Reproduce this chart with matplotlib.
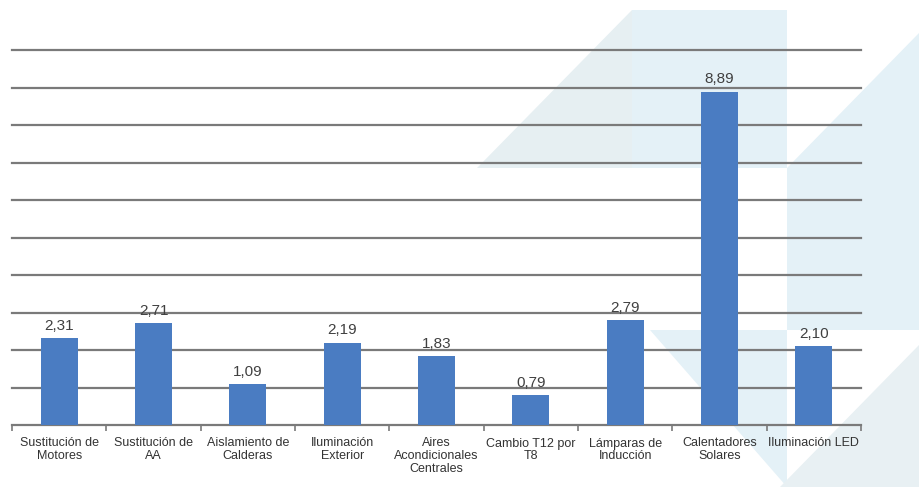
import matplotlib
matplotlib.use("Agg")
import matplotlib.pyplot as plt
from matplotlib.patches import Polygon

categorias = ["Sustitución de\nMotores", "Sustitución de\nAA", "Aislamiento de\nCalderas",
              "Iluminación\nExterior", "Aires\nAcondicionales\nCentrales", "Cambio T12 por\nT8",
              "Lámparas de\nInducción", "Calentadores\nSolares", "Iluminación LED"]
valores = [2.31, 2.71, 1.09, 2.19, 1.83, 0.79, 2.79, 8.89, 2.10]
etiquetas = ["2,31", "2,71", "1,09", "2,19", "1,83", "0,79", "2,79", "8,89", "2,10"]

W, H = 919, 487
fig = plt.figure(figsize=(W / 100, H / 100), dpi=100)
fig.patch.set_facecolor("white")

# marca de agua de fondo (pixeles de imagen)
def fondo(pts, color):
    xy = [(x / W, 1 - y / H) for x, y in pts]
    fig.patches.append(Polygon(xy, closed=True, transform=fig.transFigure,
                               facecolor=color, edgecolor="none", zorder=-5))

fondo([(477, 168), (632, 10), (632, 168)], "#e6eff2")
fondo([(632, 10), (787, 10), (787, 168), (632, 168)], "#e4f1f7")
fondo([(787, 168), (919, 33), (919, 168)], "#e4f1f7")
fondo([(787, 168), (919, 168), (919, 330), (787, 330)], "#e4f1f7")
fondo([(650, 330), (787, 330), (787, 487)], "#e4f1f7")
fondo([(919, 345), (919, 487), (780, 487)], "#e8f0f3")

ax = fig.add_axes([12 / W, 1 - 425 / H, (861 - 12) / W, (425 - 50) / H])
ax.set_zorder(1)
ax.patch.set_alpha(0)

fuente = ["Liberation Sans Narrow", "Liberation Sans", "DejaVu Sans"]
x = range(len(categorias))
ax.bar(x, valores, width=0.39, color="#4a7cc2", zorder=3)
for xi, v, t in zip(x, valores, etiquetas):
    ax.annotate(t, (xi, v), xytext=(0, 4), textcoords="offset points",
                ha="center", va="bottom", fontsize=11, color="#404040", family=fuente)

ax.set_xlim(-0.5, len(categorias) - 0.5)
ax.set_ylim(0, 10)
ax.set_yticks(range(1, 11))
ax.yaxis.grid(True, color="#7a7a7a", linewidth=1.6, zorder=1)
for linea in ax.get_ygridlines():
    linea.set_clip_on(False)
ax.set_axisbelow(True)
ax.tick_params(axis="y", length=0, labelleft=False)

ax.set_xticks(list(x))
ax.set_xticklabels(categorias, fontsize=9, color="#333333", linespacing=1.1, family=fuente)
ax.tick_params(axis="x", which="major", length=0, pad=9)
ax.set_xticks([i - 0.5 for i in range(len(categorias) + 1)], minor=True)
ax.tick_params(axis="x", which="minor", length=4, width=1.2, color="#7a7a7a", direction="out")

for s in ["top", "right", "left"]:
    ax.spines[s].set_visible(False)
ax.spines["bottom"].set_color("#7a7a7a")
ax.spines["bottom"].set_linewidth(1.6)

fig.savefig("out.png", dpi=100)
